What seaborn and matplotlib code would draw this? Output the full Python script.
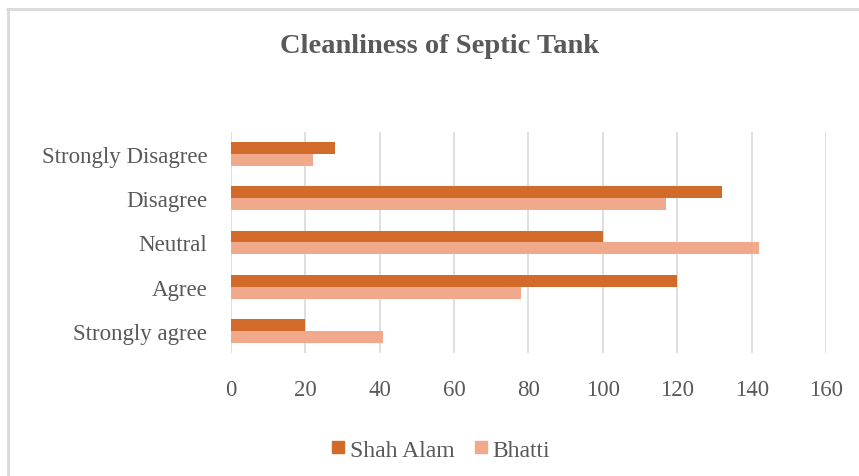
import matplotlib
matplotlib.use("Agg")
import matplotlib.pyplot as plt
import seaborn as sns
import pandas as pd
from matplotlib.lines import Line2D

categories = ["Strongly Disagree", "Disagree", "Neutral", "Agree", "Strongly agree"]
shah_alam = [28, 132, 100, 120, 20]
bhatti = [22, 117, 142, 78, 41]
series_names = ["Shah Alam", "Bhatti"]
x_ticks = [0, 20, 40, 60, 80, 100, 120, 140, 160]

df = pd.DataFrame({
    "Response": categories * 2,
    "Count": shah_alam + bhatti,
    "Location": [series_names[0]] * len(categories) + [series_names[1]] * len(categories),
})

sns.set_theme(style="white")
plt.rcParams["font.family"] = ["Liberation Serif", "DejaVu Serif"]

text_color = "#595959"
palette = {"Shah Alam": "#D26B2A", "Bhatti": "#F0A98B"}

fig = plt.figure(figsize=(8.59, 4.77), dpi=100)
ax = fig.add_axes([0.2689, 0.2579, 0.6927, 0.4633])

sns.barplot(data=df, y="Response", x="Count", hue="Location", order=categories,
            hue_order=series_names, palette=palette, orient="h", width=0.54,
            saturation=1, linewidth=0, ax=ax, legend=False)

ax.set_xlim(0, 160)
ax.set_xticks(x_ticks)
ax.set_xticklabels([str(t) for t in x_ticks])
ax.set_xlabel("")
ax.set_ylabel("")
ax.grid(axis="x", color="#D9D9D9", linewidth=1.2)
ax.set_axisbelow(True)
for s in ax.spines.values():
    s.set_visible(False)
ax.tick_params(axis="both", length=0, colors=text_color, labelsize=16.5)
ax.tick_params(axis="x", pad=18.5)
ax.tick_params(axis="y", pad=17)

fig.text(0.512, 0.9015, "Cleanliness of Septic Tank", ha="center", va="center",
         fontsize=20.5, fontweight="bold", color=text_color)

handles = [Line2D([0], [0], marker="s", linestyle="none", markersize=8.8,
                  markerfacecolor=palette[n], markeredgecolor=palette[n]) for n in series_names]
fig.legend(handles, series_names, loc="center", bbox_to_anchor=(0.513, 0.055),
           ncol=2, frameon=False, fontsize=17, labelcolor=text_color,
           handletextpad=0.2, columnspacing=0.85, handlelength=0.55)

# Chart frame lines along the top and left edges
fig.add_artist(Line2D([0.008, 1.0], [0.980, 0.980], color="#D9D9D9", linewidth=2,
                      transform=fig.transFigure))
fig.add_artist(Line2D([0.009, 0.009], [0.0, 0.980], color="#D9D9D9", linewidth=2,
                      transform=fig.transFigure))

fig.savefig("out.png", dpi=100, facecolor="white")
